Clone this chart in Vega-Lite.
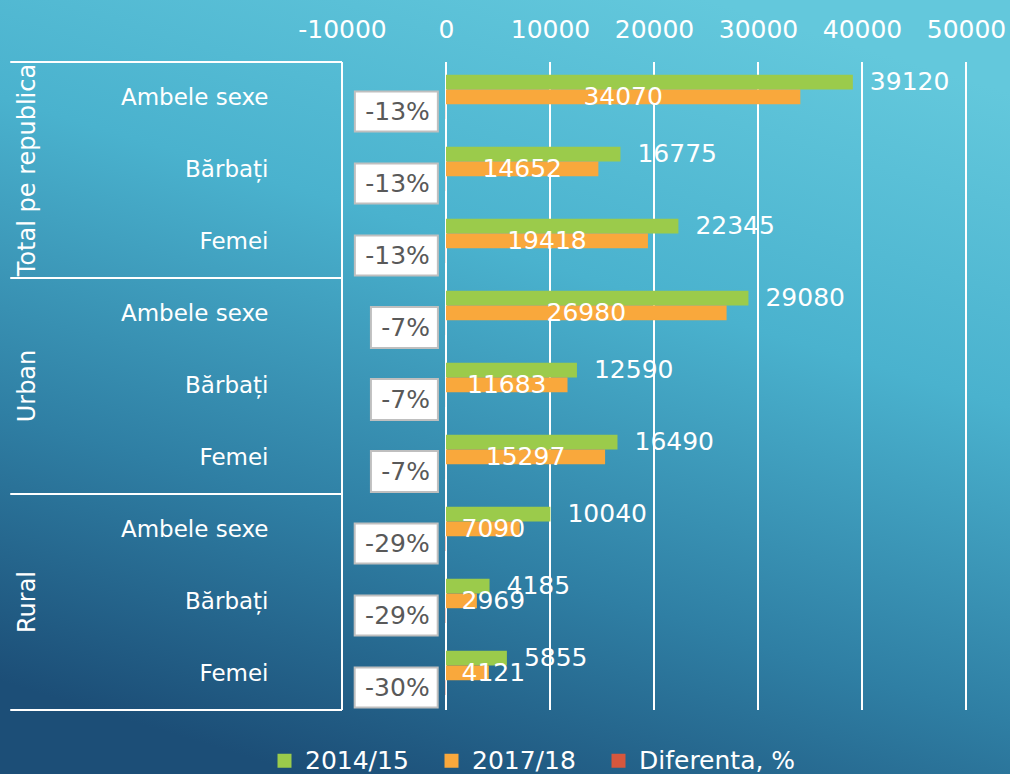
{
  "$schema": "https://vega.github.io/schema/vega-lite/v6.json",
  "width": 624,
  "height": 648,
  "autosize": {"type": "none"},
  "padding": {"left": 342, "top": 62, "right": 44, "bottom": 64},
  "background": "#3f9fc0",
  "config": {
    "view": {"stroke": null},
    "font": "DejaVu Sans",
    "text": {"font": "DejaVu Sans"}
  },
  "datasets": {
    "bars": [
      {"grp": "Total pe republica", "sex": "Ambele sexe", "series": "2014/15", "value": 39120},
      {"grp": "Total pe republica", "sex": "Ambele sexe", "series": "2017/18", "value": 34070},
      {"grp": "Total pe republica", "sex": "Ambele sexe", "series": "Diferenta, %", "value": -13},
      {"grp": "Total pe republica", "sex": "Bărbați", "series": "2014/15", "value": 16775},
      {"grp": "Total pe republica", "sex": "Bărbați", "series": "2017/18", "value": 14652},
      {"grp": "Total pe republica", "sex": "Bărbați", "series": "Diferenta, %", "value": -13},
      {"grp": "Total pe republica", "sex": "Femei", "series": "2014/15", "value": 22345},
      {"grp": "Total pe republica", "sex": "Femei", "series": "2017/18", "value": 19418},
      {"grp": "Total pe republica", "sex": "Femei", "series": "Diferenta, %", "value": -13},
      {"grp": "Urban", "sex": "Ambele sexe", "series": "2014/15", "value": 29080},
      {"grp": "Urban", "sex": "Ambele sexe", "series": "2017/18", "value": 26980},
      {"grp": "Urban", "sex": "Ambele sexe", "series": "Diferenta, %", "value": -7},
      {"grp": "Urban", "sex": "Bărbați", "series": "2014/15", "value": 12590},
      {"grp": "Urban", "sex": "Bărbați", "series": "2017/18", "value": 11683},
      {"grp": "Urban", "sex": "Bărbați", "series": "Diferenta, %", "value": -7},
      {"grp": "Urban", "sex": "Femei", "series": "2014/15", "value": 16490},
      {"grp": "Urban", "sex": "Femei", "series": "2017/18", "value": 15297},
      {"grp": "Urban", "sex": "Femei", "series": "Diferenta, %", "value": -7},
      {"grp": "Rural", "sex": "Ambele sexe", "series": "2014/15", "value": 10040},
      {"grp": "Rural", "sex": "Ambele sexe", "series": "2017/18", "value": 7090},
      {"grp": "Rural", "sex": "Ambele sexe", "series": "Diferenta, %", "value": -29},
      {"grp": "Rural", "sex": "Bărbați", "series": "2014/15", "value": 4185},
      {"grp": "Rural", "sex": "Bărbați", "series": "2017/18", "value": 2969},
      {"grp": "Rural", "sex": "Bărbați", "series": "Diferenta, %", "value": -29},
      {"grp": "Rural", "sex": "Femei", "series": "2014/15", "value": 5855},
      {"grp": "Rural", "sex": "Femei", "series": "2017/18", "value": 4121},
      {"grp": "Rural", "sex": "Femei", "series": "Diferenta, %", "value": -30}
    ],
    "grid": [
      {"tick": -10000}, {"tick": 0}, {"tick": 10000}, {"tick": 20000},
      {"tick": 30000}, {"tick": 40000}, {"tick": 50000}
    ]
  },
  "data": {"name": "bars"},
  "transform": [
    {"calculate": "datum.grp + '|' + datum.sex", "as": "key"}
  ],
  "layer": [
    {
      "data": {"values": [{"bg": 1}]},
      "mark": {
        "type": "rect",
        "fill": {
          "gradient": "linear",
          "x1": 0.7, "y1": 0, "x2": 0.3, "y2": 1,
          "stops": [
            {"offset": 0, "color": "#63C8DC"},
            {"offset": 0.35, "color": "#4AB2CE"},
            {"offset": 0.7, "color": "#2F7FA4"},
            {"offset": 1, "color": "#1C4E77"}
          ]
        }
      },
      "encoding": {
        "x": {"value": -342},
        "x2": {"value": 668},
        "y": {"value": -62},
        "y2": {"value": 712}
      }
    },
    {
      "data": {"name": "grid"},
      "mark": {"type": "rule", "color": "white", "strokeWidth": 2},
      "encoding": {
        "x": {"field": "tick", "type": "quantitative"}
      }
    },
    {
      "transform": [{"filter": "datum.sex == 'Ambele sexe' && datum.series == '2014/15'"}],
      "mark": {"type": "rule", "color": "white", "strokeWidth": 2},
      "encoding": {
        "y": {"field": "key", "type": "nominal", "bandPosition": 0},
        "x": {"datum": -41900},
        "x2": {"datum": -10000}
      }
    },
    {
      "transform": [{"filter": "datum.grp == 'Rural' && datum.sex == 'Femei' && datum.series == '2014/15'"}],
      "mark": {"type": "rule", "color": "white", "strokeWidth": 2},
      "encoding": {
        "y": {"field": "key", "type": "nominal", "bandPosition": 1},
        "x": {"datum": -41900},
        "x2": {"datum": -10000}
      }
    },
    {
      "mark": {"type": "bar"},
      "encoding": {
        "y": {
          "field": "key", "type": "nominal",
          "scale": {
            "domain": [
              "Total pe republica|Ambele sexe", "Total pe republica|Bărbați", "Total pe republica|Femei",
              "Urban|Ambele sexe", "Urban|Bărbați", "Urban|Femei",
              "Rural|Ambele sexe", "Rural|Bărbați", "Rural|Femei"
            ],
            "paddingInner": 0, "paddingOuter": 0
          },
          "axis": {
            "orient": "left", "title": null, "ticks": false, "domain": false, "grid": false,
            "labelExpr": "split(datum.label, '|')[1]",
            "labelPadding": 74, "labelFontSize": 23, "labelColor": "white",
            "labelFont": "DejaVu Sans", "zindex": 1
          }
        },
        "yOffset": {
          "field": "series", "type": "nominal",
          "scale": {"domain": ["2014/15", "2017/18", "Diferenta, %"], "paddingInner": 0, "paddingOuter": 0.95, "align": 0.46}
        },
        "x": {
          "field": "value", "type": "quantitative", "stack": null,
          "scale": {"domain": [-10000, 50000], "nice": false, "zero": false},
          "axis": {
            "orient": "top", "title": null, "ticks": false, "domain": false, "grid": false,
            "values": [-10000, 0, 10000, 20000, 30000, 40000, 50000],
            "labelExpr": "'' + datum.value", "labelFlush": false, "labelOverlap": false,
            "labelPadding": 20, "labelFontSize": 25, "labelColor": "white",
            "labelFont": "DejaVu Sans", "zindex": 1
          }
        },
        "color": {
          "field": "series", "type": "nominal",
          "scale": {"domain": ["2014/15", "2017/18", "Diferenta, %"], "range": ["#9BCB4B", "#F9A83C", "#D6573D"]},
          "legend": {
            "title": null, "orient": "none", "legendX": -70, "legendY": 686,
            "direction": "horizontal", "symbolType": "square", "symbolSize": 196,
            "symbolStrokeWidth": 0, "labelFontSize": 25, "labelColor": "white",
            "labelFont": "DejaVu Sans", "columnPadding": 30, "labelOffset": 8
          }
        }
      }
    },
    {
      "transform": [{"filter": "datum.series == '2014/15'"}],
      "mark": {"type": "text", "align": "left", "baseline": "middle", "dx": 17, "fontSize": 25, "color": "white"},
      "encoding": {
        "y": {"field": "key", "type": "nominal"},
        "yOffset": {"field": "series", "type": "nominal"},
        "x": {"field": "value", "type": "quantitative"},
        "text": {"field": "value", "type": "quantitative", "format": "d"}
      }
    },
    {
      "transform": [
        {"filter": "datum.series == '2017/18'"},
        {"calculate": "max(datum.value / 2, 4550)", "as": "labx"}
      ],
      "mark": {"type": "text", "align": "center", "baseline": "middle", "fontSize": 25, "color": "white"},
      "encoding": {
        "y": {"field": "key", "type": "nominal"},
        "yOffset": {"field": "series", "type": "nominal"},
        "x": {"field": "labx", "type": "quantitative"},
        "text": {"field": "value", "type": "quantitative", "format": "d"}
      }
    },
    {
      "transform": [{"filter": "datum.series == 'Diferenta, %'"}],
      "mark": {"type": "point", "filled": true, "fill": "white", "stroke": "#BFBFBF", "strokeWidth": 2, "opacity": 1, "fillOpacity": 1, "xOffset": -8},
      "encoding": {
        "y": {"field": "key", "type": "nominal"},
        "yOffset": {"field": "series", "type": "nominal"},
        "x": {"field": "value", "type": "quantitative"},
        "shape": {
          "condition": {"test": "datum.value > -10", "value": "M-2,-0.612L0,-0.612L0,0.612L-2,0.612Z"},
          "value": "M-2,-0.482L0,-0.482L0,0.482L-2,0.482Z"
        },
        "size": {
          "condition": {"test": "datum.value > -10", "value": 4489},
          "value": 6889
        }
      }
    },
    {
      "transform": [
        {"filter": "datum.series == 'Diferenta, %'"},
        {"calculate": "datum.value + '%'", "as": "pct"}
      ],
      "mark": {"type": "text", "align": "right", "baseline": "middle", "dx": -16, "fontSize": 25, "color": "#595959"},
      "encoding": {
        "y": {"field": "key", "type": "nominal"},
        "yOffset": {"field": "series", "type": "nominal"},
        "x": {"field": "value", "type": "quantitative"},
        "text": {"field": "pct", "type": "nominal"}
      }
    },
    {
      "transform": [{"filter": "datum.sex == 'Bărbați' && datum.series == '2014/15'"}],
      "mark": {"type": "text", "align": "center", "baseline": "middle", "angle": 270, "fontSize": 24, "color": "white"},
      "encoding": {
        "y": {"field": "key", "type": "nominal"},
        "x": {"datum": -40200},
        "text": {"field": "grp", "type": "nominal"}
      }
    }
  ]
}
